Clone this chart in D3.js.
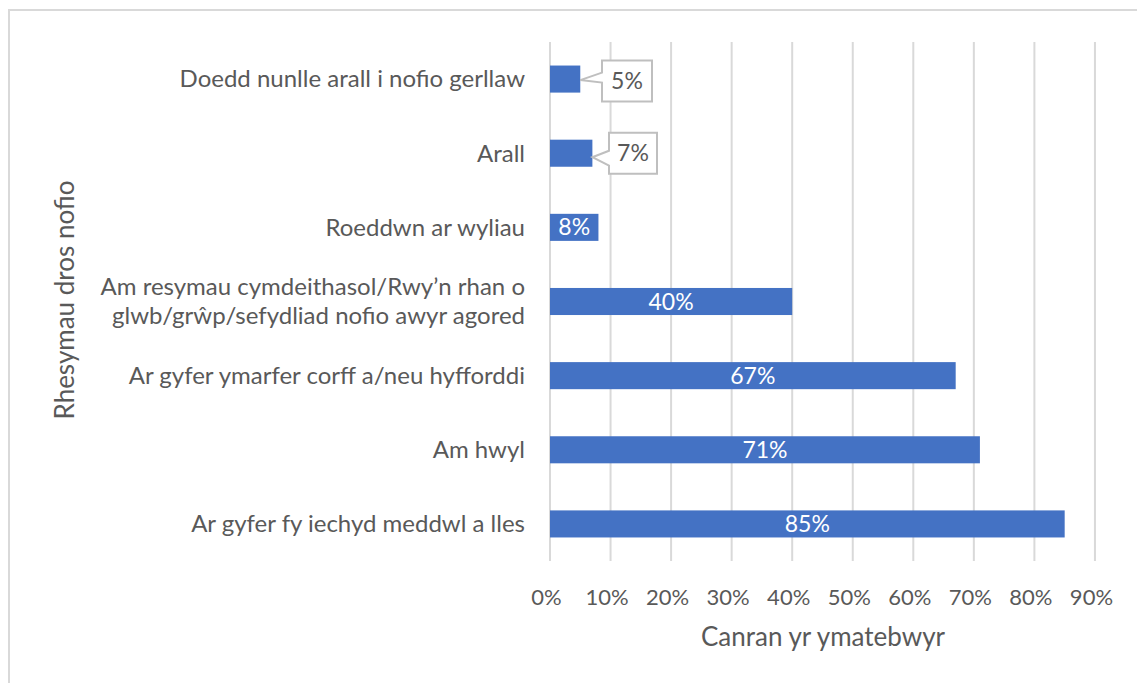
<!DOCTYPE html>
<html><head><meta charset="utf-8">
<script src="https://cdn.jsdelivr.net/npm/d3@7"></script>
<style>
body{margin:0;background:#fff;}
svg{display:block;}
text{font-family:Lato,"Open Sans",sans-serif;fill:#595959;}
</style></head>
<body>
<svg id="chart" width="1137" height="683"></svg>
<script>
const categories = [
  ["Doedd nunlle arall i nofio gerllaw"],
  ["Arall"],
  ["Roeddwn ar wyliau"],
  ["Am resymau cymdeithasol/Rwy’n rhan o", "glwb/grŵp/sefydliad nofio awyr agored"],
  ["Ar gyfer ymarfer corff a/neu hyfforddi"],
  ["Am hwyl"],
  ["Ar gyfer fy iechyd meddwl a lles"]
];
const values = [5, 7, 8, 40, 67, 71, 85];
const tickValues = [0,10,20,30,40,50,60,70,80,90];
const xTitle = "Canran yr ymatebwyr";
const yTitle = "Rhesymau dros nofio";

(function(){
const svg = d3.select("#chart");
svg.append("rect").attr("x",9).attr("y",10).attr("width",1140).attr("height",690)
  .attr("fill","#fff").attr("stroke","#d9d9d9").attr("stroke-width",2);

const pLeft = 550, pRight = 550 + 90*6.055, pTop = 42, pBottom = 561;
const x = d3.scaleLinear().domain([0,90]).range([pLeft,pRight]);
const y = d3.scaleBand().domain(d3.range(categories.length)).range([pTop,pBottom]).paddingInner(0.635).paddingOuter(0.3175);

svg.append("g").selectAll("line").data(tickValues).join("line")
  .attr("x1",d=>x(d)).attr("x2",d=>x(d)).attr("y1",pTop).attr("y2",pBottom)
  .attr("stroke","#d9d9d9").attr("stroke-width",2);

const xAxis = d3.axisBottom(x).tickValues(tickValues).tickFormat(d=>d+"%").tickSize(0).tickPadding(0);
const gx = svg.append("g").attr("transform",`translate(-4,${pBottom+28})`).call(xAxis);
gx.select(".domain").remove();
gx.selectAll("text").attr("font-size",22).attr("font-family","Lato").attr("fill","#595959");

svg.append("g").selectAll("rect").data(values).join("rect")
  .attr("x",x(0)).attr("y",(d,i)=>y(i)).attr("width",d=>x(d)-x(0)).attr("height",y.bandwidth())
  .attr("fill","#4472C4");

const yAxis = svg.append("g");
categories.forEach((lines,i)=>{
  const cy = y(i)+y.bandwidth()/2;
  const t = yAxis.append("text").attr("text-anchor","end").attr("font-size",24);
  lines.forEach((ln,j)=>{
    t.append("tspan").attr("x",pLeft-25).attr("y",cy + (j-(lines.length-1)/2)*29).attr("dy","0.35em").text(ln);
  });
});

values.forEach((v,i)=>{
  const cy = y(i)+y.bandwidth()/2;
  if (v >= 8) {
    svg.append("text").attr("x",(x(0)+x(v))/2).attr("y",cy).attr("dy","0.35em")
      .attr("text-anchor","middle").attr("font-size",23).style("fill","#fff").text(v+"%");
  } else {
    const bx = i===0 ? 602 : 609, bw = i===0 ? 50 : 48, bh = 41;
    const by = cy - bh/2 + (i===0 ? 2 : 0);
    const tipX = x(v), tipY = cy + (i===0 ? 1 : 4);
    const b1 = i===0 ? by+12 : by+18, b2 = i===0 ? by+22 : by+33;
    const path = `M${bx},${by} H${bx+bw} V${by+bh} H${bx} V${b2} L${tipX},${tipY} L${bx},${b1} Z`;
    svg.append("path").attr("d",path).attr("fill","#fff").attr("stroke","#bfbfbf").attr("stroke-width",2);
    svg.append("text").attr("x",bx+bw/2).attr("y",by+bh/2).attr("dy","0.35em")
      .attr("text-anchor","middle").attr("font-size",23).text(v+"%");
  }
});

svg.append("text").attr("x",823).attr("y",637).attr("dy","0.35em").attr("text-anchor","middle")
  .attr("font-size",26).text(xTitle);
svg.append("text").attr("transform","translate(65,300) rotate(-90)").attr("dy","0.35em")
  .attr("text-anchor","middle").attr("font-size",26).text(yTitle);
})();
</script>
</body></html>
